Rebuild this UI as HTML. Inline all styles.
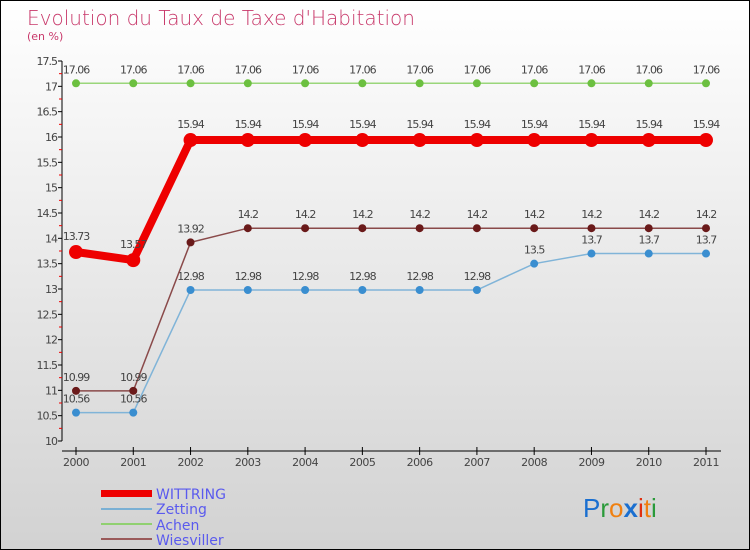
<!DOCTYPE html>
<html><head><meta charset="utf-8"><style>
body{margin:0;}
#wrap{width:750px;height:550px;position:relative;box-sizing:border-box;border:1px solid #000;background:linear-gradient(#ffffff,#d2d2d2);font-family:"DejaVu Sans","Liberation Sans",sans-serif;overflow:hidden}
svg{position:absolute;left:0;top:0}
</style></head><body>
<div id="wrap">
<svg id="svg" width="750" height="550">
<text x="26" y="24" font-size="20" fill="#c8386a" font-family="DejaVu Sans, sans-serif" font-weight="200">Evolution du Taux de Taxe d'Habitation</text>
<text x="26" y="39" font-size="11" fill="#c8386a">(en %)</text>
<g id="axes"></g><g id="series"></g>
<g>
<rect x="100" y="489" width="51" height="7" fill="#e00"/>
<text x="155" y="498" font-size="14" fill="#5a5aee">WITTRING</text>
<rect x="100" y="507" width="51" height="2" fill="#7ab0d4"/>
<text x="155" y="513" font-size="14" fill="#5a5aee">Zetting</text>
<rect x="100" y="522" width="51" height="2" fill="#90d070"/>
<text x="155" y="529" font-size="14" fill="#5a5aee">Achen</text>
<rect x="100" y="537" width="51" height="2" fill="#9a5a5a"/>
<text x="155" y="544" font-size="14" fill="#5a5aee">Wiesviller</text>
</g>
<text x="582" y="516" font-size="26" font-family="Liberation Sans, sans-serif"><tspan fill="#1a6fd0">P</tspan><tspan fill="#2a9a3a">r</tspan><tspan fill="#f08010">o</tspan><tspan fill="#1a6fd0" font-weight="bold">x</tspan><tspan fill="#e03010">i</tspan><tspan fill="#f08010">t</tspan><tspan fill="#2a9a3a">i</tspan></text>
</svg></div>
<script>
const years=[2000,2001,2002,2003,2004,2005,2006,2007,2008,2009,2010,2011];
const yTicks=[10,10.5,11,11.5,12,12.5,13,13.5,14,14.5,15,15.5,16,16.5,17,17.5];
const yTickLabels=["10","10.5","11","11.5","12","12.5","13","13.5","14","14.5","15","15.5","16","16.5","17","17.5"];
const wittring=[13.73,13.57,15.94,15.94,15.94,15.94,15.94,15.94,15.94,15.94,15.94,15.94];
const zetting=[10.56,10.56,12.98,12.98,12.98,12.98,12.98,12.98,13.5,13.7,13.7,13.7];
const achen=[17.06,17.06,17.06,17.06,17.06,17.06,17.06,17.06,17.06,17.06,17.06,17.06];
const wiesviller=[10.99,10.99,13.92,14.2,14.2,14.2,14.2,14.2,14.2,14.2,14.2,14.2];
const NS="http://www.w3.org/2000/svg";
const xS=i=>75+i*(630/11);
const yS=v=>440-(v-10)*(380/7.5);
function mk(t,a,p){const e=document.createElementNS(NS,t);for(const k in a)e.setAttribute(k,a[k]);p.appendChild(e);return e;}
const ax=document.getElementById('axes');
const yl=mk('line',{x1:61,y1:60,x2:61,y2:440,stroke:'#000'},ax);


yTicks.forEach((v,i)=>{
 const y=yS(v);
 mk('line',{x1:57,y1:y,x2:61,y2:y,stroke:'#000'},ax);
 if(i<yTicks.length-1){mk('line',{x1:58,y1:yS(v+0.25),x2:61,y2:yS(v+0.25),stroke:'#e00'},ax);}
 const t=mk('text',{x:56,y:y+4,'text-anchor':'end','font-size':11,fill:'#444','letter-spacing':'-1'},ax);
 t.textContent=yTickLabels[i];
 
 
});
const xl=mk('line',{x1:61,y1:450,x2:720,y2:450,stroke:'#000'},ax);


years.forEach((yr,i)=>{
 const x=xS(i);
 mk('line',{x1:x,y1:446,x2:x,y2:454,stroke:'#000'},ax);
 const t=mk('text',{x:x,y:465,'text-anchor':'middle','font-size':11,fill:'#444','letter-spacing':'-0.5'},ax);
 t.textContent=yr;
 
 
});
const sg=document.getElementById('series');
function series(name,data,color,dot,w,r,lblOff){
 const g=mk('g',{},sg);
 
 
 const pl=mk('polyline',{points:data.map((v,i)=>xS(i)+','+yS(v)).join(' '),fill:'none',stroke:color,'stroke-width':w},g);
 
 
 data.forEach((v,i)=>{
  const c=mk('circle',{cx:xS(i),cy:yS(v),r:r,fill:dot},g);
  
  
  const t=mk('text',{x:xS(i),y:yS(v)+lblOff,'text-anchor':'middle','font-size':11,fill:'#444','letter-spacing':'-1'},g);
  t.textContent=String(v);
  
  
 });
}
series('achen',achen,'#9ad67a','#6cc040',1.5,4,-10);
series('zetting',zetting,'#80b4d8','#3a8ed0',1.5,4,-10);
series('wiesviller',wiesviller,'#8a4a4a','#6a1a1a',1.5,4,-10);
series('wittring',wittring,'#ee0000','#ee0000',8,7,-12);
</script>
</body></html>
